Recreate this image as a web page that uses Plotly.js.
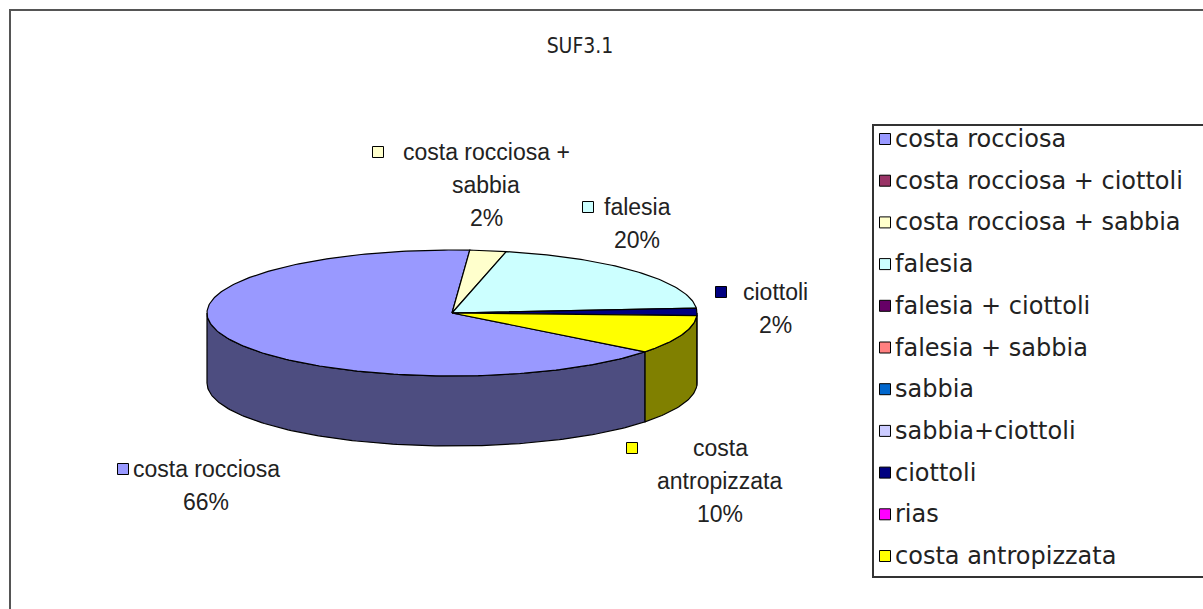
<!DOCTYPE html>
<html>
<head>
<meta charset="utf-8">
<script src="https://cdn.plot.ly/plotly-3.0.1.min.js"></script>
<style>
html,body{margin:0;padding:0;background:#ffffff;}
#chart{width:1203px;height:609px;}
</style>
</head>
<body>
<div id="chart"></div>
<script>
// ---------------- DATA ----------------
const chartTitle = 'SUF3.1';
const categories = ['costa rocciosa','costa rocciosa + ciottoli','costa rocciosa + sabbia','falesia','falesia + ciottoli','falesia + sabbia','sabbia','sabbia+ciottoli','ciottoli','rias','costa antropizzata'];
const values = [65.6, 0, 2.4, 20.2, 0, 0, 0, 0, 1.9, 0, 9.9];
const colors = ['#9999FF','#993366','#FFFFCC','#CCFFFF','#660066','#FF8080','#0066CC','#CCCCFF','#000080','#FF00FF','#FFFF00'];

// ---------------- LAYOUT CONSTANTS (pixels) ----------------
const W = 1203, H = 609;
const CX = 452, CY = 313, RX = 245, RY = 63, DEPTH = 70, START_DEG = 128;
// data-label placement: centre of text column, first line y, key centre, words on first line
const labelPlace = {
  'costa rocciosa':          {cx: 206, y: 469, kx: 123, firstWords: 2},
  'costa rocciosa + sabbia': {cx: 486, y: 152, kx: 378, firstWords: 3},
  'falesia':                 {cx: 637, y: 207, kx: 588, firstWords: 1},
  'ciottoli':                {cx: 775, y: 292, kx: 721, firstWords: 1},
  'costa antropizzata':      {cx: 720, y: 448, kx: 632, firstWords: 1}
};
const LINE_GAP = 33;
const LEG = {x0: 873, y0: 125, x1: 1215, y1: 577, keyX: 885, textX: 893, rowY0: 139, rowGap: 41.7};
const labelFont = {family: 'Liberation Sans, Arial, sans-serif', size: 23, color: '#222'};
const legendFont = {family: 'DejaVu Sans, Verdana, sans-serif', size: 24, color: '#222'};

function darker(hex, f) {
  const n = parseInt(hex.slice(1), 16);
  const r = Math.round(((n >> 16) & 255) * f), g = Math.round(((n >> 8) & 255) * f), b = Math.round((n & 255) * f);
  return 'rgb(' + r + ',' + g + ',' + b + ')';
}
function pt(deg, dz) {
  const a = deg * Math.PI / 180;
  return [CX + RX * Math.sin(a), CY - RY * Math.cos(a) + dz];
}
function arc(a0, a1, dz) {
  const n = Math.max(2, Math.ceil(Math.abs(a1 - a0)));
  const xs = [], ys = [];
  for (let k = 0; k <= n; k++) {
    const p = pt(a0 + (a1 - a0) * k / n, dz);
    xs.push(p[0]); ys.push(p[1]);
  }
  return [xs, ys];
}

const total = values.reduce((s, v) => s + v, 0);
const slices = [];
let cum = 0;
values.forEach((v, i) => {
  const a0 = START_DEG + cum / total * 360;
  const a1 = a0 + v / total * 360;
  cum += v;
  if (v > 0) slices.push({i, a0, a1});
});

const sideTraces = [], topTraces = [];
slices.forEach(s => {
  // visible front side: angles where cos < 0, i.e. (90,270) mod 360
  for (let k = -1; k <= 1; k++) {
    const lo = Math.max(s.a0, 90 + 360 * k), hi = Math.min(s.a1, 270 + 360 * k);
    if (hi > lo) {
      const top = arc(lo, hi, 0), bot = arc(hi, lo, DEPTH);
      sideTraces.push({
        type: 'scatter', mode: 'lines', fill: 'toself',
        x: top[0].concat(bot[0], [top[0][0]]), y: top[1].concat(bot[1], [top[1][0]]),
        fillcolor: darker(colors[s.i], 0.5), line: {color: '#000', width: 1.2},
        hoverinfo: 'skip', showlegend: false
      });
    }
  }
  const a = arc(s.a0, s.a1, 0);
  topTraces.push({
    type: 'scatter', mode: 'lines', fill: 'toself',
    x: [CX].concat(a[0], [CX]), y: [CY].concat(a[1], [CY]),
    fillcolor: colors[s.i], line: {color: '#000', width: 1.2},
    name: categories[s.i],
    text: categories[s.i] + ' ' + Math.round(values[s.i] / total * 100) + '%',
    hoveron: 'fills', hoverinfo: 'text', showlegend: false
  });
});

const shapes = [], annotations = [];
// outer frame
shapes.push({type: 'rect', xref: 'x', yref: 'y', x0: 10, y0: 10, x1: 1220, y1: 614, line: {color: '#555', width: 2}, fillcolor: 'rgba(0,0,0,0)', layer: 'below'});

// data labels
slices.forEach(s => {
  const name = categories[s.i];
  const lp = labelPlace[name];
  if (!lp) return;
  const words = name.split(' ');
  const lines = [words.slice(0, lp.firstWords).join(' ')];
  if (words.length > lp.firstWords) lines.push(words.slice(lp.firstWords).join(' '));
  lines.push(Math.round(values[s.i] / total * 100) + '%');
  lines.forEach((t, j) => {
    annotations.push({xref: 'x', yref: 'y', x: lp.cx, y: lp.y + j * LINE_GAP, text: t, showarrow: false,
      xanchor: 'center', yanchor: 'middle', font: labelFont});
  });
  shapes.push({type: 'rect', xref: 'x', yref: 'y', x0: lp.kx - 5.5, x1: lp.kx + 5.5, y0: lp.y - 5.5, y1: lp.y + 5.5,
    fillcolor: colors[s.i], line: {color: '#000', width: 1}});
});

// legend (all categories)
shapes.push({type: 'rect', xref: 'x', yref: 'y', x0: LEG.x0, y0: LEG.y0, x1: LEG.x1, y1: LEG.y1, fillcolor: '#fff', line: {color: '#333', width: 2}, layer: 'below'});
categories.forEach((c, i) => {
  const y = LEG.rowY0 + i * LEG.rowGap;
  shapes.push({type: 'rect', xref: 'x', yref: 'y', x0: LEG.keyX - 5.5, x1: LEG.keyX + 5.5, y0: y - 5.5, y1: y + 5.5,
    fillcolor: colors[i], line: {color: '#000', width: 1}});
  annotations.push({xref: 'x', yref: 'y', x: LEG.textX, y: y, text: c, showarrow: false,
    xanchor: 'left', yanchor: 'middle', font: legendFont});
});

const layout = {
  width: W, height: H,
  margin: {l: 0, r: 0, t: 0, b: 0},
  paper_bgcolor: '#fff', plot_bgcolor: '#fff',
  title: {text: chartTitle, x: 580 / W, xref: 'paper', xanchor: 'center', y: 1 - 46 / H, yref: 'paper', yanchor: 'middle',
    font: {family: 'Liberation Sans Narrow, DejaVu Sans Condensed, Liberation Sans, Arial, sans-serif', size: 21, color: '#222'}},
  xaxis: {range: [0, W], visible: false, fixedrange: true},
  yaxis: {range: [H, 0], visible: false, fixedrange: true},
  showlegend: false,
  shapes: shapes,
  annotations: annotations,
  hovermode: 'closest'
};

Plotly.newPlot('chart', sideTraces.concat(topTraces), layout, {displayModeBar: false, responsive: false});
</script>
</body>
</html>
